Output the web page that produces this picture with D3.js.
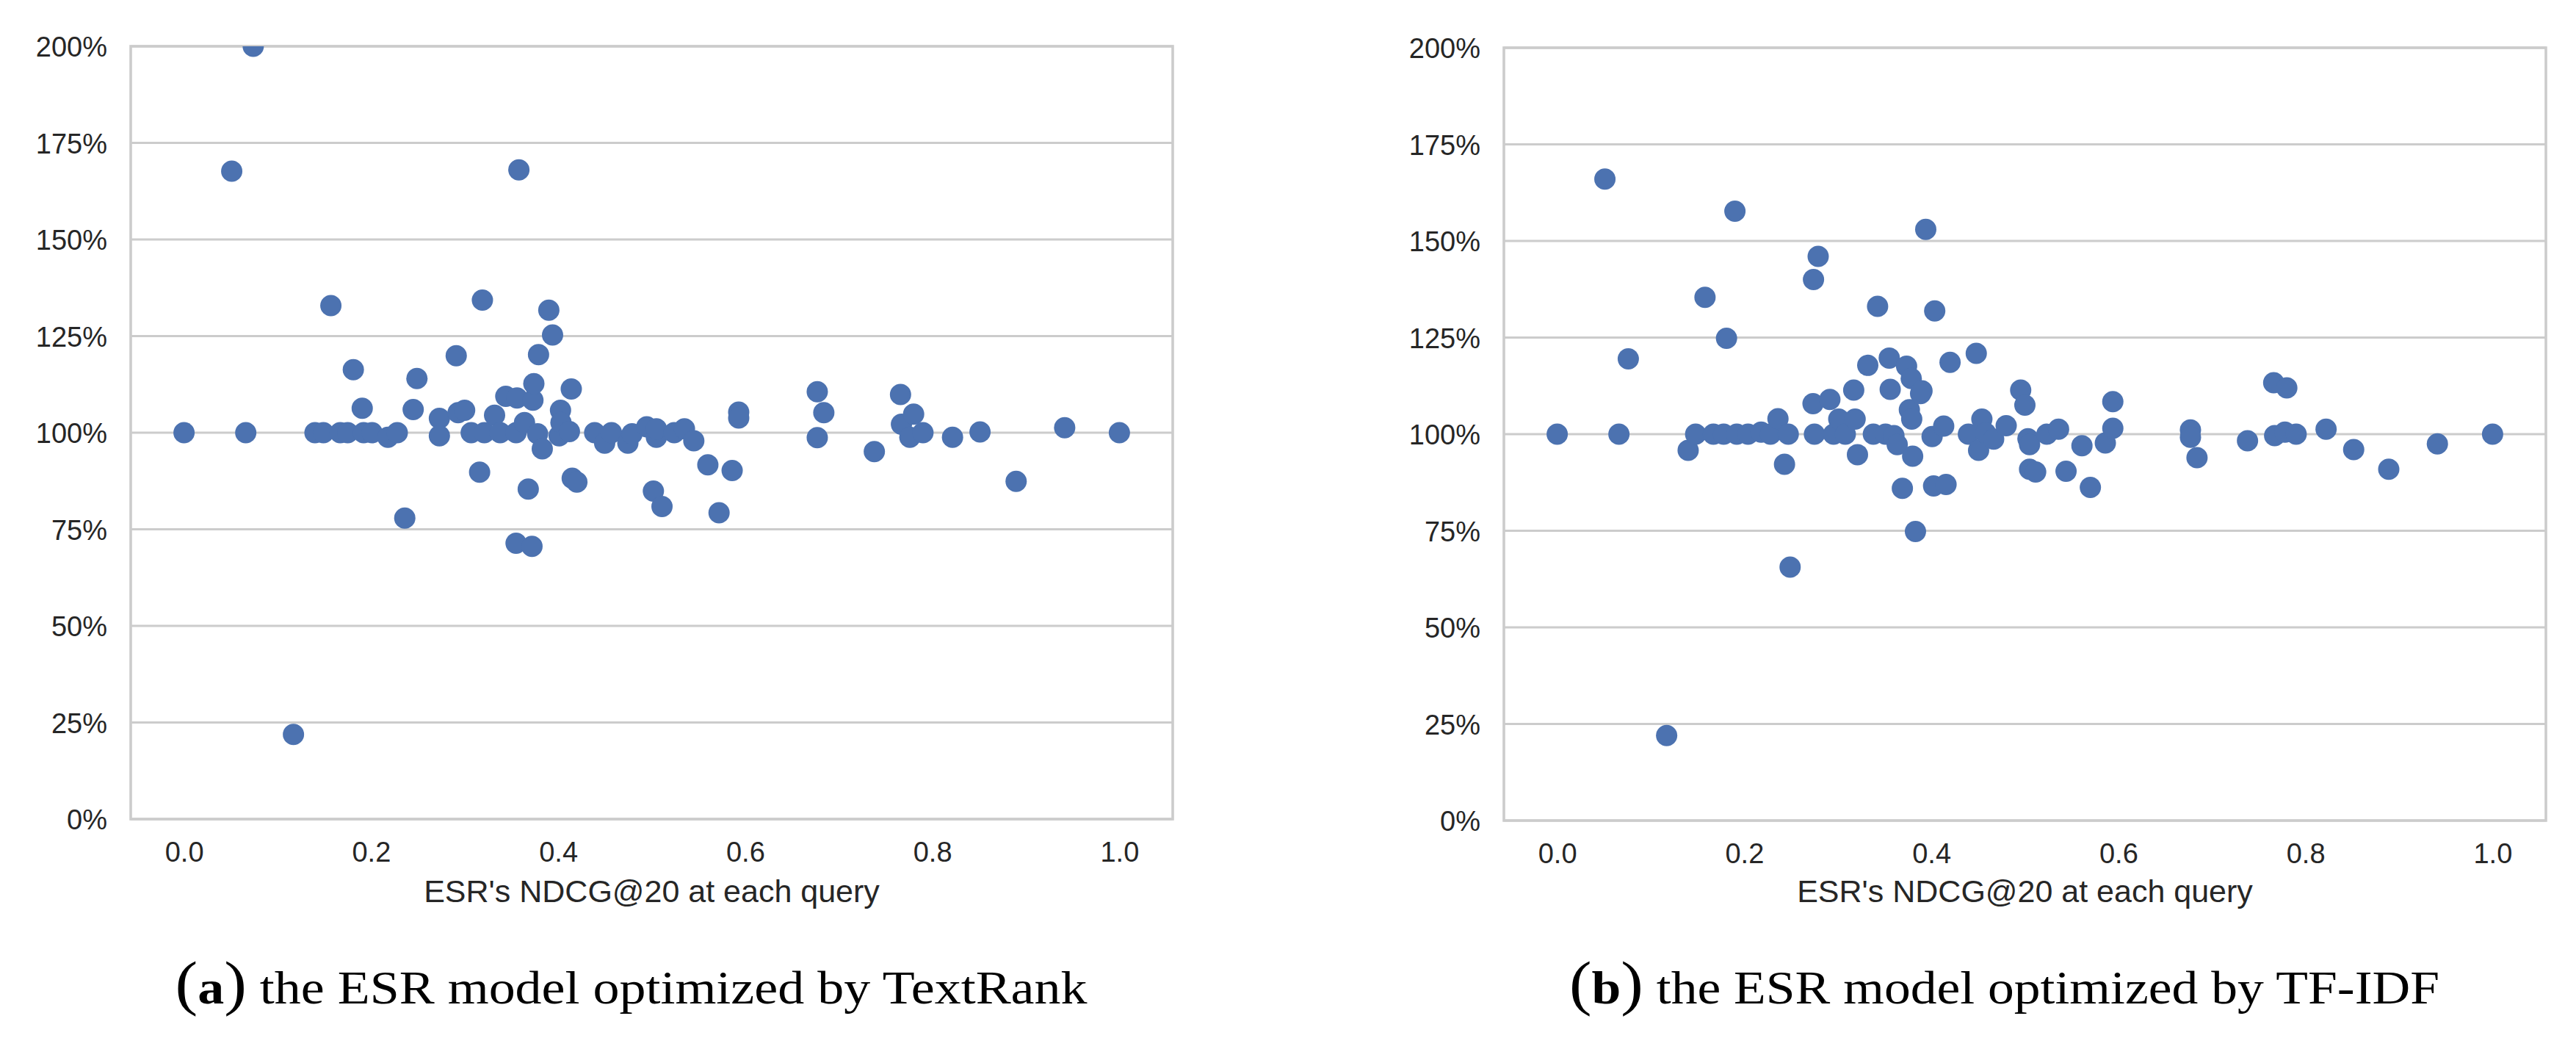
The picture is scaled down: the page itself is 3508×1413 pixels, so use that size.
<!DOCTYPE html>
<html>
<head>
<meta charset="utf-8">
<script src="https://cdn.jsdelivr.net/npm/d3@7"></script>
<style>
  html, body { margin: 0; padding: 0; background: #ffffff; }
  svg { display: block; }
</style>
</head>
<body>
<svg id="chart" width="3508" height="1413"></svg>
<script>
// ---------------- data ----------------
const xTicks = [0, 0.2, 0.4, 0.6, 0.8, 1.0];
const yTicks = [0, 25, 50, 75, 100, 125, 150, 175, 200];
const xAxisTitle = "ESR's NDCG@20 at each query";

// (a) TextRank: x = ESR's NDCG@20, y = relative performance (%)
const textRankX = [0.000, 0.051, 0.066, 0.074, 0.117, 0.140, 0.149, 0.157, 0.167, 0.175,
  0.181, 0.1905, 0.192, 0.201, 0.218, 0.228, 0.236, 0.245, 0.249, 0.273,
  0.273, 0.291, 0.293, 0.300, 0.307, 0.316, 0.319, 0.321, 0.332, 0.338,
  0.344, 0.355, 0.355, 0.356, 0.358, 0.364, 0.368, 0.372, 0.373, 0.374,
  0.378, 0.379, 0.383, 0.390, 0.394, 0.401, 0.4025, 0.403, 0.412, 0.414,
  0.415, 0.420, 0.439, 0.4497, 0.457, 0.4745, 0.479, 0.4947, 0.5018, 0.505,
  0.505, 0.511, 0.524, 0.535, 0.545, 0.560, 0.572, 0.586, 0.593, 0.593,
  0.677, 0.677, 0.684, 0.738, 0.766, 0.767, 0.776, 0.780, 0.790, 0.8216,
  0.851, 0.8896, 0.9415, 1.000];
const textRankY = [100, 167.7, 100, 200, 21.9, 100, 100, 132.9, 100, 100,
  116.3, 106.3, 100, 100, 98.8, 100, 77.9, 106.0, 114.0, 103.7,
  99.2, 119.9, 105.2, 105.8, 100, 89.8, 134.3, 100, 104.5, 100,
  109.4, 100, 71.4, 109.0, 168, 102.6, 85.4, 70.6, 108.4, 112.7,
  99.7, 120.2, 95.8, 131.7, 125.3, 99.2, 105.8, 102.6, 100.3, 111.3,
  88.2, 87.2, 100, 97.3, 100, 97.3, 99.7, 101.5, 84.9, 98.8,
  101, 80.9, 100, 101, 97.9, 91.7, 79.3, 90.2, 105.3, 103.8,
  110.6, 98.7, 105.2, 95.1, 109.9, 102.2, 98.8, 104.8, 100, 98.8,
  100.2, 87.4, 101.3, 100];

// (b) TF-IDF
const tfidfX = [0.000, 0.051, 0.066, 0.076, 0.117, 0.140, 0.148, 0.158, 0.167, 0.178,
  0.181, 0.190, 0.192, 0.204, 0.218, 0.228, 0.236, 0.243, 0.247, 0.249,
  0.2735, 0.274, 0.275, 0.279, 0.2915, 0.2955, 0.301, 0.308, 0.317, 0.3185,
  0.321, 0.332, 0.338, 0.3425, 0.351, 0.355, 0.356, 0.360, 0.3635, 0.369,
  0.3735, 0.3765, 0.3785, 0.379, 0.380, 0.383, 0.3885, 0.390, 0.394, 0.4008,
  0.4024, 0.4036, 0.4132, 0.4157, 0.420, 0.4396, 0.448, 0.4505, 0.454, 0.458,
  0.4666, 0.480, 0.4955, 0.500, 0.5033, 0.505, 0.505, 0.5115, 0.5235, 0.536,
  0.544, 0.561, 0.570, 0.586, 0.594, 0.594, 0.677, 0.677, 0.684, 0.738,
  0.766, 0.780, 0.767, 0.778, 0.790, 0.822, 0.8515, 0.889, 0.941, 1.000];
const tfidfY = [100, 166, 100, 119.5, 22, 95.8, 100, 135.4, 100, 100,
  124.8, 157.7, 100, 100, 100.5, 100, 104, 92.2, 100, 65.6,
  107.9, 140, 100, 146, 109, 100, 103.9, 100, 111.4, 103.9,
  94.7, 117.8, 100, 133.1, 100, 119.7, 111.6, 99.6, 97.3, 86.0,
  117.6, 106.3, 114.4, 103.9, 94.3, 74.8, 110.5, 111.2, 153, 99.4,
  86.6, 131.9, 102.1, 87.0, 118.6, 100, 120.9, 95.8, 103.9, 100.3,
  98.7, 102.2, 111.4, 107.5, 98.8, 97.3, 90.9, 90.2, 100, 101.3,
  90.4, 97.0, 86.2, 97.7, 108.4, 101.5, 101.1, 99.2, 93.9, 98.3,
  113.3, 112.0, 99.6, 100.5, 100, 101.3, 96.0, 90.9, 97.5, 100];

const captionLabels = ["a", "b"];
const captionTexts = [" the ESR model optimized by TextRank", " the ESR model optimized by TF-IDF"];

// ---------------- layout ----------------
const panels = [
  { xs: textRankX, ys: textRankY, left: 178, right: 1597, top: 63, bottom: 1115, capW: 1242 },
  { xs: tfidfX, ys: tfidfY, left: 2048, right: 3467, top: 65, bottom: 1117, capW: 1185 }
];

const svg = d3.select("#chart");
const gridColor = "#cccccc";
const dotColor = "#4c72b0";
const textColor = "#262626";
const sans = "'Liberation Sans', Arial, Helvetica, sans-serif";
const serif = "'Liberation Serif', 'Times New Roman', serif";

panels.forEach((p, i) => {
  const x = d3.scaleLinear().domain([-0.057, 1.057]).range([p.left, p.right]);
  const y = d3.scaleLinear().domain([0, 200]).range([p.bottom, p.top]);
  const g = svg.append("g");

  // gridlines
  g.append("g").selectAll("line").data(yTicks).join("line")
    .attr("x1", p.left).attr("x2", p.right)
    .attr("y1", d => y(d)).attr("y2", d => y(d))
    .attr("stroke", gridColor).attr("stroke-width", 3.2);

  // plot border
  g.append("rect")
    .attr("x", p.left).attr("y", p.top)
    .attr("width", p.right - p.left).attr("height", p.bottom - p.top)
    .attr("fill", "none").attr("stroke", gridColor).attr("stroke-width", 3.6);

  // y axis labels
  const yAxis = d3.axisLeft(y).tickValues(yTicks).tickSize(0).tickPadding(32)
    .tickFormat(d => d + "%");
  const ya = g.append("g").attr("transform", `translate(${p.left},0)`).call(yAxis);
  ya.select(".domain").remove();
  ya.selectAll("text").attr("font-family", sans).attr("font-size", 38)
    .attr("fill", textColor).attr("dy", "0.36em");

  // x axis labels
  const xAxis = d3.axisBottom(x).tickValues(xTicks).tickSize(0).tickPadding(0)
    .tickFormat(d3.format(".1f"));
  const xa = g.append("g").attr("transform", `translate(0,${p.bottom})`).call(xAxis);
  xa.select(".domain").remove();
  xa.selectAll("text").attr("font-family", sans).attr("font-size", 38)
    .attr("fill", textColor).attr("dy", null).attr("y", 58);

  // x axis title
  g.append("text")
    .attr("x", (p.left + p.right) / 2).attr("y", 1228)
    .attr("text-anchor", "middle")
    .attr("font-family", sans).attr("font-size", 43).attr("fill", textColor)
    .text(xAxisTitle);

  // clip & points
  const clipId = "clip" + i;
  svg.append("defs").append("clipPath").attr("id", clipId)
    .append("rect").attr("x", p.left).attr("y", p.top)
    .attr("width", p.right - p.left).attr("height", p.bottom - p.top);

  const pts = p.xs.map((v, k) => ({ x: v, y: p.ys[k] }));
  g.append("g").attr("clip-path", `url(#${clipId})`)
    .selectAll("circle").data(pts).join("circle")
    .attr("cx", d => x(d.x)).attr("cy", d => y(d.y))
    .attr("r", 14.5).attr("fill", dotColor);

  // caption
  const cx = (p.left + p.right) / 2 - 28;
  const cap = g.append("text")
    .attr("x", cx).attr("y", 1366)
    .attr("text-anchor", "middle")
    .attr("font-family", serif).attr("font-size", 64).attr("fill", "#000")
    .attr("textLength", p.capW).attr("lengthAdjust", "spacingAndGlyphs");
  cap.append("tspan").attr("font-size", 82).attr("font-weight", "normal").text("(");
  cap.append("tspan").attr("font-weight", "bold").text(captionLabels[i]);
  cap.append("tspan").attr("font-size", 82).text(")");
  cap.append("tspan").text(captionTexts[i]);
});
</script>
</body>
</html>
